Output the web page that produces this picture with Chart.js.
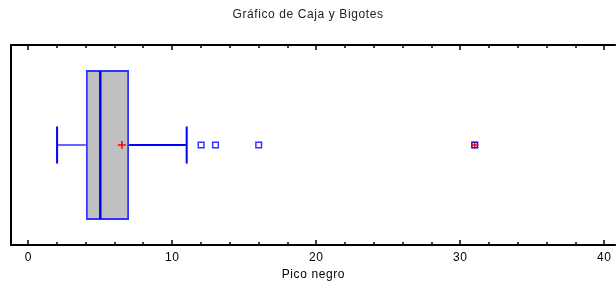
<!DOCTYPE html>
<html>
<head>
<meta charset="utf-8">
<script src="https://cdn.jsdelivr.net/npm/chart.js@4"></script>
<style>
  html, body { margin: 0; padding: 0; background: #fff; }
  #wrap { width: 616px; height: 287px; }
</style>
</head>
<body>
<div id="wrap"><canvas id="caja"></canvas></div>
<script>
// datos del grafico
const variable = 'Pico negro';
const caja = [4, 7];              // Q1, Q3
const mediana = [5];
const media = [6.5];
const bigotes = [2, 11];          // min, max sin atipicos
const atipicos = [12, 13, 16];
const atipicosLejanos = [31];
const marcasX = [0, 10, 20, 30, 40];
const pasoMenor = 2;

const azul = '#0000ff';
const azulCaja = '#3333ff';
const rojo = '#ff0000';
const fuente = { family: 'Liberation Sans', size: 12, weight: 'normal' };

const punto = v => ({ x: v, y: variable });

// el texto del original va algo espaciado
const espaciado = {
  id: 'espaciado',
  beforeDraw(chart) { chart.ctx.letterSpacing = '0.6px'; }
};

// marco del grafico con marcas hacia dentro
const marco = {
  id: 'marco',
  afterDatasetsDraw(chart) {
    const { ctx, chartArea: a, scales: { x } } = chart;
    ctx.save();
    ctx.strokeStyle = '#000';
    ctx.lineWidth = 2;
    ctx.beginPath();
    ctx.moveTo(a.right, a.top);
    ctx.lineTo(a.left, a.top);
    ctx.lineTo(a.left, a.bottom);
    ctx.lineTo(a.right, a.bottom);
    ctx.stroke();

    ctx.lineWidth = 1.5;
    ctx.beginPath();
    for (let v = marcasX[0]; v <= marcasX[marcasX.length - 1]; v += pasoMenor) {
      const px = Math.round(x.getPixelForValue(v));
      const largo = marcasX.includes(v) ? 5 : 3;
      ctx.moveTo(px, a.bottom);
      ctx.lineTo(px, a.bottom - largo);
      ctx.moveTo(px, a.top);
      ctx.lineTo(px, a.top + largo);
    }
    ctx.stroke();
    ctx.restore();
  }
};

new Chart(document.getElementById('caja'), {
  data: {
    labels: [variable],
    datasets: [
      {
        type: 'bar',
        indexAxis: 'y',
        data: [caja],
        backgroundColor: '#c0c0c0',
        borderColor: azulCaja,
        borderWidth: 2,
        borderSkipped: false,
        categoryPercentage: 1,
        barPercentage: 0.75,
        order: 5
      },
      {
        // bigote izquierdo
        type: 'line',
        data: [punto(bigotes[0]), punto(caja[0])],
        borderColor: azulCaja,
        borderWidth: 1.5,
        pointRadius: 0,
        order: 4
      },
      {
        // bigote derecho
        type: 'line',
        data: [punto(caja[1]), punto(bigotes[1])],
        borderColor: azul,
        borderWidth: 2,
        pointRadius: 0,
        order: 4
      },
      {
        // extremos de los bigotes
        type: 'scatter',
        data: bigotes.map(punto),
        pointStyle: 'line',
        rotation: 90,
        pointRadius: 18.5,
        borderColor: azul,
        pointBorderWidth: 2,
        order: 3
      },
      {
        // mediana
        type: 'scatter',
        data: mediana.map(punto),
        pointStyle: 'line',
        rotation: 90,
        pointRadius: 74,
        borderColor: azul,
        pointBorderWidth: 2.5,
        order: 2
      },
      {
        type: 'scatter',
        data: atipicos.map(punto),
        pointStyle: 'rect',
        pointRadius: 4,
        backgroundColor: '#fff',
        borderColor: azulCaja,
        pointBorderWidth: 1.5,
        order: 2
      },
      {
        type: 'scatter',
        data: atipicosLejanos.map(punto),
        pointStyle: 'rect',
        pointRadius: 4,
        backgroundColor: '#fff',
        borderColor: azul,
        pointBorderWidth: 1.5,
        order: 1
      },
      {
        type: 'scatter',
        data: atipicosLejanos.map(punto),
        pointStyle: 'cross',
        pointRadius: 3.5,
        borderColor: rojo,
        pointBorderWidth: 1.5,
        order: 0
      },
      {
        // media
        type: 'scatter',
        data: media.map(punto),
        pointStyle: 'cross',
        pointRadius: 4,
        borderColor: rojo,
        pointBorderWidth: 1.5,
        order: 0
      }
    ]
  },
  options: {
    responsive: true,
    maintainAspectRatio: false,
    animation: false,
    layout: {
      autoPadding: false,
      padding: 0
    },
    plugins: {
      legend: { display: false },
      tooltip: { enabled: false },
      title: {
        display: true,
        text: 'Gráfico de Caja y Bigotes',
        color: '#222',
        font: fuente,
        padding: { top: 7, bottom: 23.6 }
      }
    },
    scales: {
      x: {
        type: 'linear',
        min: -1.2,
        max: 40.8,
        grid: { display: false, drawTicks: false },
        border: { display: false },
        afterBuildTicks: s => { s.ticks = marcasX.map(v => ({ value: v })); },
        afterFit: s => { s.height = 42; },
        ticks: {
          color: '#000',
          padding: 5,
          maxRotation: 0,
          font: fuente
        },
        title: {
          display: true,
          text: variable,
          color: '#000',
          padding: { top: 0, bottom: 5 },
          font: fuente
        }
      },
      y: {
        type: 'category',
        display: true,
        grid: { display: false, drawTicks: false },
        border: { display: false },
        ticks: { display: false },
        afterFit: s => { s.width = 11; }
      }
    }
  },
  plugins: [espaciado, marco]
});
</script>
</body>
</html>
